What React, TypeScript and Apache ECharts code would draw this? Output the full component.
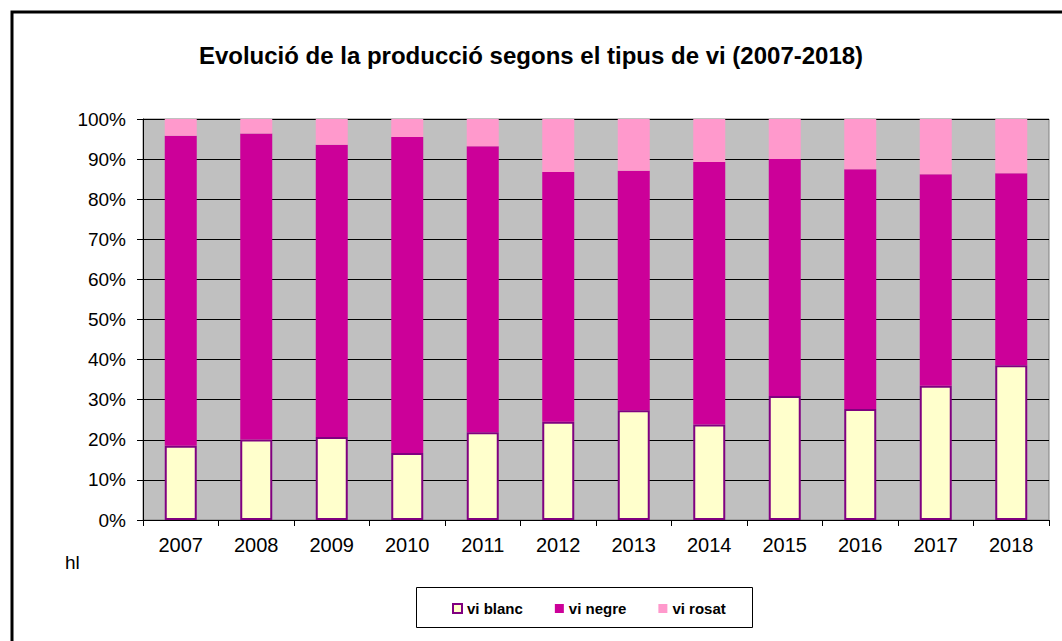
import React, { useEffect, useRef } from "react";
import * as echarts from "echarts";

const years = ["2007", "2008", "2009", "2010", "2011", "2012", "2013", "2014", "2015", "2016", "2017", "2018"];
const viBlanc = [18.5, 20.1, 20.7, 16.7, 21.9, 24.5, 27.4, 23.8, 30.9, 27.7, 33.5, 38.6];
const viNegre = [77.3, 76.3, 72.9, 78.8, 71.3, 62.3, 59.7, 65.5, 59.1, 59.8, 52.7, 47.9];
const viRosat = [4.2, 3.6, 6.4, 4.5, 6.8, 13.2, 12.9, 10.7, 10.0, 12.5, 13.8, 13.5];
const seriesNames = ["vi blanc", "vi negre", "vi rosat"];
const titleText = "Evolució de la producció segons el tipus de vi (2007-2018)";

const FONT = "'Liberation Sans', Arial, sans-serif";

export default function App() {
  const ref = useRef<HTMLDivElement>(null);
  useEffect(() => {
    if (!ref.current) return;
    const chart = echarts.init(ref.current, undefined, { renderer: "svg" });
    const barW = 32;
    chart.setOption({
      animation: false,
      backgroundColor: "#ffffff",
      title: {
        text: titleText,
        left: "center",
        top: 38,
        textStyle: { fontFamily: FONT, fontSize: 24, fontWeight: "bold", color: "#000" },
      },
      grid: {
        left: 143,
        top: 119,
        right: 13,
        bottom: 121,
        show: true,
        backgroundColor: "#C0C0C0",
        borderColor: "#808080",
        borderWidth: 1,
        containLabel: false,
      },
      legend: {
        left: 452,
        top: 601,
        itemWidth: 9,
        itemHeight: 9,
        itemGap: 32,
        icon: "rect",
        data: seriesNames,
        textStyle: { fontFamily: FONT, fontSize: 15, fontWeight: "bold", color: "#000" },
        padding: 0,
      },
      graphic: [
        {
          type: "rect",
          shape: { x: 12, y: 12, width: 1100, height: 700 },
          style: { fill: "none", stroke: "#000", lineWidth: 3 },
          silent: true,
        },
        {
          type: "rect",
          shape: { x: 416.5, y: 587.5, width: 336, height: 40 },
          style: { fill: "none", stroke: "#000", lineWidth: 1 },
          silent: true,
        },
        {
          type: "text",
          x: 65,
          y: 553,
          style: { text: "hl", fontFamily: FONT, fontSize: 19, fill: "#000" },
          silent: true,
        },
      ],
      xAxis: {
        type: "category",
        data: years,
        boundaryGap: true,
        axisLine: { lineStyle: { color: "#000", width: 1 } },
        axisTick: { show: true, length: 6, alignWithLabel: false, lineStyle: { color: "#000" } },
        axisLabel: { fontFamily: FONT, fontSize: 20, color: "#000", margin: 15 },
        splitLine: { show: false },
      },
      yAxis: {
        type: "value",
        min: 0,
        max: 100,
        interval: 10,
        axisLine: { show: true, lineStyle: { color: "#000", width: 1 } },
        axisTick: { show: true, length: 6, lineStyle: { color: "#000" } },
        axisLabel: { fontFamily: FONT, fontSize: 19, color: "#000", margin: 17, formatter: "{value}%" },
        splitLine: { show: true, lineStyle: { color: "#000", width: 1 } },
      },
      series: [
        {
          name: seriesNames[0],
          type: "bar",
          stack: "total",
          barWidth: barW,
          data: viBlanc,
          itemStyle: { color: "#FFFFCC", borderColor: "#800080", borderWidth: 2 },
        },
        {
          name: seriesNames[1],
          type: "bar",
          stack: "total",
          barWidth: barW,
          data: viNegre,
          itemStyle: { color: "#CC0099" },
        },
        {
          name: seriesNames[2],
          type: "bar",
          stack: "total",
          barWidth: barW,
          data: viRosat,
          itemStyle: { color: "#FF99CC" },
        },
      ],
    });
    return () => chart.dispose();
  }, []);
  return (
    <div
      ref={ref}
      style={{ position: "fixed", left: 0, top: 0, width: 1062, height: 641 }}
    />
  );
}
